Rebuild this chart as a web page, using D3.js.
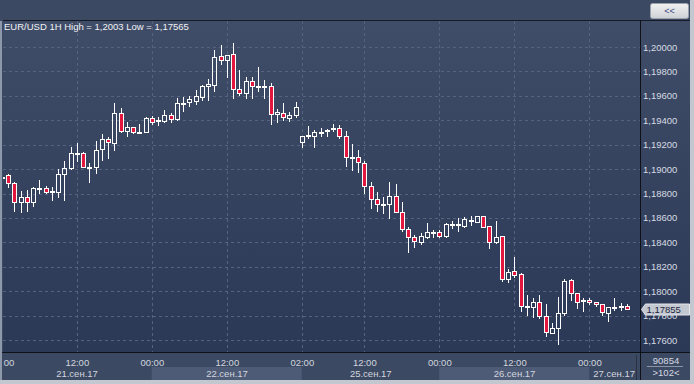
<!DOCTYPE html>
<html>
<head>
<meta charset="utf-8">
<script src="https://cdn.jsdelivr.net/npm/d3@7"></script>
<style>
    html, body { margin: 0; padding: 0; background: #3c4963; overflow: hidden; }
    svg { display: block; font-family: "Liberation Sans", Arial, sans-serif; }
</style>
</head>
<body>
<svg id="chart" width="694" height="384"></svg>
<script>
// EUR/USD 1H, 21.09.2017 00:00 .. 27.09.2017 06:00 (101 bars)
const openP = [
    1.18930, 1.18952, 1.18889, 1.18733, 1.18769, 1.18733, 1.18843, 1.18843, 1.18818, 1.18815,
    1.18957, 1.19012, 1.19129, 1.19129, 1.19020, 1.19020, 1.19162, 1.19244, 1.19211, 1.19457,
    1.19314, 1.19342, 1.19301, 1.19306, 1.19416, 1.19392, 1.19396, 1.19441, 1.19408, 1.19541,
    1.19552, 1.19560, 1.19593, 1.19681, 1.19691, 1.19926, 1.19896, 1.19940, 1.19654, 1.19626,
    1.19722, 1.19681, 1.19683, 1.19680, 1.19449, 1.19457, 1.19421, 1.19446, 1.19224, 1.19274,
    1.19274, 1.19300, 1.19318, 1.19329, 1.19334, 1.19274, 1.19097, 1.19097, 1.19048, 1.18862,
    1.18753, 1.18710, 1.18712, 1.18780, 1.18646, 1.18507, 1.18446, 1.18405, 1.18446, 1.18482,
    1.18482, 1.18455, 1.18549, 1.18550, 1.18536, 1.18585, 1.18569, 1.18616, 1.18534, 1.18405,
    1.18452, 1.18100, 1.18165, 1.18141, 1.17881, 1.17873, 1.17909, 1.17799, 1.17655, 1.17696,
    1.17819, 1.18089, 1.17983, 1.17926, 1.17928, 1.17909, 1.17893, 1.17824, 1.17870, 1.17876,
    1.17879
];
const highP = [
    1.18943, 1.18960, 1.18892, 1.18821, 1.18829, 1.18851, 1.18911, 1.18864, 1.18856, 1.19001,
    1.19066, 1.19179, 1.19211, 1.19138, 1.19052, 1.19230, 1.19287, 1.19265, 1.19544, 1.19498,
    1.19383, 1.19345, 1.19369, 1.19427, 1.19435, 1.19424, 1.19484, 1.19457, 1.19580, 1.19593,
    1.19601, 1.19648, 1.19689, 1.19738, 1.19975, 1.20016, 1.19934, 1.20030, 1.19812, 1.19752,
    1.19757, 1.19834, 1.19730, 1.19703, 1.19492, 1.19539, 1.19465, 1.19552, 1.19272, 1.19353,
    1.19320, 1.19334, 1.19326, 1.19369, 1.19361, 1.19312, 1.19206, 1.19156, 1.19066, 1.18892,
    1.18810, 1.18769, 1.18897, 1.18876, 1.18733, 1.18528, 1.18460, 1.18474, 1.18556, 1.18501,
    1.18501, 1.18556, 1.18577, 1.18597, 1.18605, 1.18616, 1.18618, 1.18618, 1.18536, 1.18575,
    1.18454, 1.18182, 1.18283, 1.18151, 1.17969, 1.17942, 1.17969, 1.17895, 1.17742, 1.17955,
    1.18100, 1.18100, 1.17985, 1.17947, 1.17947, 1.17911, 1.17895, 1.17870, 1.17947, 1.17901,
    1.17895
];
const lowP = [
    1.18919, 1.18856, 1.18659, 1.18651, 1.18659, 1.18700, 1.18802, 1.18807, 1.18747, 1.18774,
    1.18747, 1.19001, 1.19066, 1.19018, 1.18897, 1.18971, 1.19075, 1.19093, 1.19156, 1.19306,
    1.19274, 1.19298, 1.19296, 1.19304, 1.19367, 1.19361, 1.19388, 1.19388, 1.19406, 1.19478,
    1.19517, 1.19533, 1.19566, 1.19566, 1.19640, 1.19861, 1.19757, 1.19585, 1.19607, 1.19585,
    1.19580, 1.19640, 1.19585, 1.19367, 1.19388, 1.19402, 1.19396, 1.19429, 1.19183, 1.19252,
    1.19183, 1.19274, 1.19274, 1.19314, 1.19252, 1.19028, 1.18993, 1.18979, 1.18802, 1.18679,
    1.18659, 1.18638, 1.18597, 1.18645, 1.18496, 1.18321, 1.18364, 1.18384, 1.18438, 1.18441,
    1.18441, 1.18446, 1.18515, 1.18493, 1.18528, 1.18542, 1.18567, 1.18526, 1.18356, 1.18397,
    1.18084, 1.18078, 1.18114, 1.17840, 1.17805, 1.17791, 1.17783, 1.17636, 1.17654, 1.17565,
    1.17805, 1.17928, 1.17865, 1.17840, 1.17893, 1.17881, 1.17805, 1.17758, 1.17846, 1.17846,
    1.17853
];
const closeP = [
    1.18932, 1.18889, 1.18733, 1.18769, 1.18733, 1.18843, 1.18838, 1.18815, 1.18823, 1.18957,
    1.19007, 1.19129, 1.19131, 1.19020, 1.19020, 1.19156, 1.19247, 1.19220, 1.19457, 1.19314,
    1.19342, 1.19301, 1.19303, 1.19416, 1.19388, 1.19398, 1.19441, 1.19408, 1.19539, 1.19545,
    1.19574, 1.19599, 1.19681, 1.19699, 1.19916, 1.19896, 1.19932, 1.19654, 1.19626, 1.19722,
    1.19681, 1.19683, 1.19680, 1.19449, 1.19470, 1.19429, 1.19443, 1.19507, 1.19271, 1.19279,
    1.19301, 1.19302, 1.19321, 1.19333, 1.19274, 1.19097, 1.19095, 1.19056, 1.18864, 1.18753,
    1.18714, 1.18706, 1.18780, 1.18646, 1.18507, 1.18446, 1.18411, 1.18452, 1.18482, 1.18478,
    1.18454, 1.18549, 1.18551, 1.18552, 1.18589, 1.18583, 1.18616, 1.18528, 1.18405, 1.18441,
    1.18100, 1.18157, 1.18130, 1.17881, 1.17879, 1.17909, 1.17797, 1.17663, 1.17696, 1.17819,
    1.18084, 1.17983, 1.17914, 1.17929, 1.17909, 1.17893, 1.17827, 1.17868, 1.17874, 1.17881,
    1.17855
];

const timeTicks = [0, 12, 24, 36, 48, 58, 70, 82, 94];
const timeLabels = ["00:00", "12:00", "00:00", "12:00", "02:00", "12:00", "00:00", "12:00", "00:00"];
const dayStarts = [0, 24, 48, 70, 94];
const dayLabels = ["21.сен.17", "22.сен.17", "25.сен.17", "26.сен.17", "27.сен.17"];
const priceTicks = [1.176, 1.178, 1.180, 1.182, 1.184, 1.186, 1.188, 1.190, 1.192, 1.194, 1.196, 1.198, 1.200];

const title = "EUR/USD 1H High = 1,2003 Low = 1,17565";
const lastPrice = 1.17855;
const barCount = "90854";
const barsShown = ">102<";

const bars = closeP.map((c, i) => ({ i: i, o: openP[i], h: highP[i], l: lowP[i], c: c }));

const W = 694, H = 384;
const plot = { left: 3, top: 21, right: 640, bottom: 352 };

const x = d3.scaleLinear().domain([0, 100]).range([2.3, 627.3]);
const y = d3.scaleLinear().domain([1.176, 1.2]).range([340, 47]);
const fmtPrice = v => d3.format(".5f")(v).replace(".", ",");

const svg = d3.select("#chart");
const defs = svg.append("defs");

let grad = defs.append("linearGradient").attr("id", "bg").attr("x1", 0).attr("y1", 0).attr("x2", 0).attr("y2", 1);
grad.append("stop").attr("offset", "0%").attr("stop-color", "#404d68");
grad.append("stop").attr("offset", "100%").attr("stop-color", "#2b3856");

let btnGrad = defs.append("linearGradient").attr("id", "btn").attr("x1", 0).attr("y1", 0).attr("x2", 0).attr("y2", 1);
btnGrad.append("stop").attr("offset", "0%").attr("stop-color", "#f2f2f2");
btnGrad.append("stop").attr("offset", "100%").attr("stop-color", "#cdd0d5");

defs.append("clipPath").attr("id", "plotClip")
    .append("rect")
    .attr("x", plot.left).attr("y", plot.top)
    .attr("width", plot.right - plot.left).attr("height", plot.bottom - plot.top);
defs.append("clipPath").attr("id", "timeClip")
    .append("rect")
    .attr("x", plot.left).attr("y", plot.bottom)
    .attr("width", 636 - plot.left).attr("height", 30);

// window + panels
svg.append("rect").attr("width", W).attr("height", H).attr("fill", "#3c4963");
svg.append("rect")
    .attr("x", plot.left).attr("y", plot.top)
    .attr("width", plot.right - plot.left).attr("height", plot.bottom - plot.top)
    .attr("fill", "url(#bg)");
svg.append("rect")
    .attr("x", plot.right + 1).attr("y", plot.top)
    .attr("width", 690 - plot.right - 1).attr("height", plot.bottom - plot.top)
    .attr("fill", "url(#bg)");

// grid
let grid = svg.append("g").attr("clip-path", "url(#plotClip)")
    .attr("stroke", "#56637e").attr("stroke-width", 1).attr("stroke-dasharray", "3,3");
grid.selectAll(".hg").data(priceTicks).join("line")
    .attr("x1", plot.left).attr("x2", plot.right)
    .attr("y1", d => Math.round(y(d)) + 0.5).attr("y2", d => Math.round(y(d)) + 0.5);
grid.selectAll(".vg").data(timeTicks).join("line")
    .attr("y1", plot.top).attr("y2", plot.bottom)
    .attr("x1", d => Math.floor(x(d)) + 0.5).attr("x2", d => Math.floor(x(d)) + 0.5);

// candles
let candles = svg.append("g").attr("clip-path", "url(#plotClip)");
let cg = candles.selectAll("g.bar").data(bars).join("g").attr("class", "bar");
const cx = d => Math.floor(x(d.i)) + 0.5;
const bodyTop = d => Math.round(y(Math.max(d.o, d.c)));
const bodyBot = d => Math.max(Math.round(y(Math.min(d.o, d.c))), bodyTop(d) + 1);

cg.append("line")
    .attr("x1", cx).attr("x2", cx)
    .attr("y1", d => Math.round(y(d.h))).attr("y2", bodyTop)
    .attr("stroke", "#ffffff");
cg.append("line")
    .attr("x1", cx).attr("x2", cx)
    .attr("y1", d => bodyBot(d) + 1).attr("y2", d => Math.round(y(d.l)) + 1)
    .attr("stroke", "#ffffff");
cg.append("rect")
    .attr("x", d => cx(d) - 2)
    .attr("y", d => bodyTop(d) + 0.5)
    .attr("width", 4)
    .attr("height", d => bodyBot(d) - bodyTop(d))
    .attr("fill", d => d.c < d.o ? "#e3173d" : "none")
    .attr("stroke", "#ffffff");

// title
svg.append("text")
    .attr("x", 4).attr("y", 30)
    .attr("font-size", "9.5px").attr("fill", "#f0f2f5")
    .text(title);

// right price axis
svg.append("g").selectAll("text").data(priceTicks).join("text")
    .attr("x", 643).attr("y", d => y(d) + 3.5)
    .attr("font-size", "9.5px").attr("fill", "#d6dae2")
    .text(fmtPrice);

// last price tag
let yl = Math.round(y(lastPrice)) + 0.5;
svg.append("path")
    .attr("d", `M641.5,${yl} L645.5,${yl - 5.5} H689.5 V${yl + 5.5} H645.5 Z`)
    .attr("fill", "#c4c8d0").attr("stroke", "#e4e6ea");
svg.append("text")
    .attr("x", 646.5).attr("y", yl + 3.5)
    .attr("font-size", "9.5px").attr("fill", "#1c2640")
    .text(fmtPrice(lastPrice));

// bottom time axis
let tAxis = svg.append("g").attr("clip-path", "url(#timeClip)");
const dayEnd = i => i + 1 < dayStarts.length ? x(dayStarts[i + 1]) - 0.6 : 636;
tAxis.selectAll("rect").data(dayStarts).join("rect")
    .attr("x", d => x(d) - 0.6)
    .attr("y", 367)
    .attr("width", (d, i) => dayEnd(i) - x(d) + 0.6)
    .attr("height", 13)
    .attr("fill", (d, i) => i % 2 ? "#4e5b77" : "none");
tAxis.selectAll("text.t").data(timeTicks).join("text")
    .attr("class", "t")
    .attr("x", d => x(d)).attr("y", 365.5)
    .attr("text-anchor", "middle")
    .attr("font-size", "9.5px").attr("fill", "#d2d6de")
    .text((d, i) => timeLabels[i]);
tAxis.selectAll("text.d").data(dayStarts).join("text")
    .attr("class", "d")
    .attr("x", (d, i) => i + 1 < dayStarts.length ? (x(d) + dayEnd(i)) / 2 : 635)
    .attr("y", 376.5)
    .attr("text-anchor", (d, i) => i + 1 < dayStarts.length ? "middle" : "end")
    .attr("font-size", "9.5px").attr("fill", "#d2d6de")
    .text((d, i) => dayLabels[i]);

// bottom right counter cell
svg.append("text")
    .attr("x", 666).attr("y", 364)
    .attr("text-anchor", "middle")
    .attr("font-size", "9.5px").attr("fill", "#d6dae2")
    .text(barCount);
svg.append("line")
    .attr("x1", 647).attr("x2", 683).attr("y1", 366.5).attr("y2", 366.5)
    .attr("stroke", "#8c95a6");
svg.append("text")
    .attr("x", 666).attr("y", 376)
    .attr("text-anchor", "middle")
    .attr("font-size", "9.5px").attr("fill", "#d6dae2")
    .text(barsShown);

// frame lines
let frame = svg.append("g").attr("stroke-width", 1);
frame.append("line").attr("x1", plot.left).attr("x2", 690).attr("y1", 20.5).attr("y2", 20.5).attr("stroke", "#151a25");
frame.append("line").attr("x1", 0).attr("x2", 690).attr("y1", 352.5).attr("y2", 352.5).attr("stroke", "#0e1118");
frame.append("line").attr("x1", 640.5).attr("x2", 640.5).attr("y1", 20).attr("y2", 380).attr("stroke", "#0e1118");
frame.append("line").attr("x1", 636.5).attr("x2", 636.5).attr("y1", 355).attr("y2", 380).attr("stroke", "#2a3142");
svg.append("rect").attr("x", 0).attr("y", 21).attr("width", 2).attr("height", 360).attr("fill", "#8e98ab");
svg.append("rect").attr("x", 690).attr("y", 0).attr("width", 4).attr("height", H).attr("fill", "#c3c7cf");
svg.append("rect").attr("x", 0).attr("y", 380).attr("width", W).attr("height", 4).attr("fill", "#c3c7cf");

// "<<" button
svg.append("rect")
    .attr("x", 650.5).attr("y", 3.5).attr("width", 38).attr("height", 15).attr("rx", 2)
    .attr("fill", "url(#btn)").attr("stroke", "#9aa1ac");
svg.append("text")
    .attr("x", 669.5).attr("y", 14)
    .attr("text-anchor", "middle")
    .attr("font-size", "9px").attr("fill", "#3c4a86")
    .text("<<");
</script>
</body>
</html>
